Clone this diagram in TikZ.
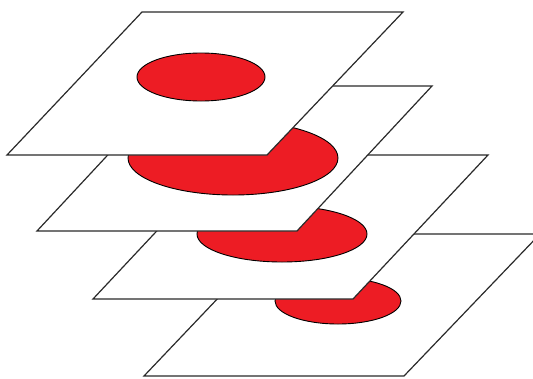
\documentclass[tikz,border=0pt]{standalone}
\definecolor{discred}{HTML}{ED1C24}
\definecolor{edgegray}{HTML}{2A2A2A}
\tikzset{
  plate/.style={draw=edgegray, fill=white, line width=1.2pt, line join=miter},
  disc/.style={draw=black, fill=discred, line width=0.9pt}
}
\begin{document}
\begin{tikzpicture}[x=1pt,y=-1pt]
\useasboundingbox (0,0) rectangle (533,378);
\clip (0,0) rectangle (533,378);
% plate 4 (bottom)
\coordinate (p4a) at (279,234);
\coordinate (p4b) at (540,234);
\coordinate (p4c) at (404,376);
\coordinate (p4d) at (144,376);
\draw[plate] (p4a) -- (p4b) -- (p4c) -- (p4d) -- cycle;
\draw[disc] (338,301) ellipse [x radius=63, y radius=23];
% plate 3
\coordinate (p3a) at (228,155);
\coordinate (p3b) at (488,155);
\coordinate (p3c) at (353,299);
\coordinate (p3d) at (93,299);
\draw[plate] (p3a) -- (p3b) -- (p3c) -- (p3d) -- cycle;
\draw[disc] (282,234) ellipse [x radius=85, y radius=28];
% plate 2
\coordinate (p2a) at (172,86);
\coordinate (p2b) at (432,86);
\coordinate (p2c) at (297,231);
\coordinate (p2d) at (37,231);
\draw[plate] (p2a) -- (p2b) -- (p2c) -- (p2d) -- cycle;
\draw[disc] (233,158) ellipse [x radius=105, y radius=37];
% plate 1 (top)
\coordinate (p1a) at (142,12);
\coordinate (p1b) at (403,12);
\coordinate (p1c) at (267,155);
\coordinate (p1d) at (7,155);
\draw[plate] (p1a) -- (p1b) -- (p1c) -- (p1d) -- cycle;
\draw[disc] (201,77) ellipse [x radius=64, y radius=24];
\end{tikzpicture}
\end{document}
